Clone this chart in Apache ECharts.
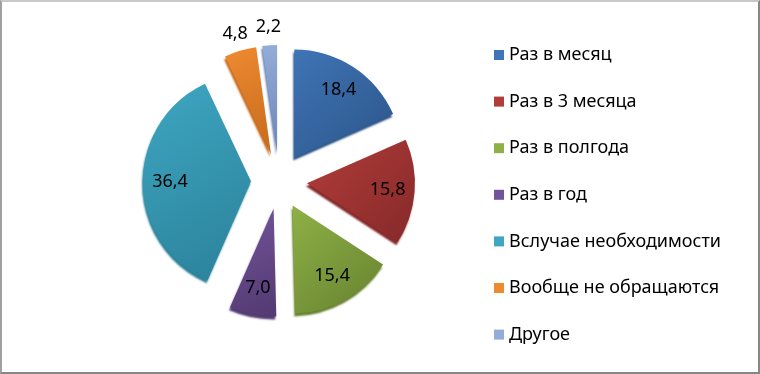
<!DOCTYPE html>
<html><head><meta charset="utf-8">
<script src="https://cdn.jsdelivr.net/npm/echarts@6/dist/echarts.min.js"></script>
<style>
html,body{margin:0;padding:0;background:#fff;}
#c{width:760px;height:374px;box-sizing:border-box;border:2px solid #878787;border-top-color:#c8c8c8;border-left-color:#a0a0a0;}
</style></head>
<body><div id="c"></div>
<script>
const categories = ['Раз в месяц','Раз в 3 месяца','Раз в полгода','Раз в год','Вслучае необходимости','Вообще не обращаются','Другое'];
const values = [18.4, 15.8, 15.4, 7.0, 36.4, 4.8, 2.2];
const outsideLabels = ['Вообще не обращаются','Другое'];
const colorsLight = ['#3f74b6','#b13d39','#8fb047','#73549a','#3ea6c2','#ee8a31','#93acd8'];
const colorsDark  = ['#2c5588','#86292a','#66822f','#533a72','#2b8199','#c66a1c','#6d86b5'];

const chart = echarts.init(document.getElementById('c'), null, {renderer:'canvas'});
const fmt = p => p.value.toFixed(1).replace('.', ',');
const pieData = categories.map((n,i)=>({
  name:n, value:values[i], selected:true,
  itemStyle:{
    color:new echarts.graphic.LinearGradient(0,0,1,1,[{offset:0,color:colorsLight[i]},{offset:1,color:colorsDark[i]}]),
    shadowColor:colorsDark[i], shadowOffsetY:3, shadowOffsetX:-1, shadowBlur:2
  }
}));
const labelData = (outside) => categories.map((n,i)=>({
  name:n, value:values[i], selected:true,
  label:{show: outsideLabels.includes(n) === outside}
}));
const common = {
  type:'pie', center:[277,179], startAngle:90, clockwise:true,
  selectedMode:'multiple', selectedOffset:28, avoidLabelOverlap:false,
  emphasis:{disabled:true}, labelLine:{show:false}
};
const labelStyle = {position:'inside', formatter:fmt, fontFamily:'Noto Sans', fontSize:18, color:'#000'};
chart.setOption({
  animation:false,
  backgroundColor:'#ffffff',
  legend:{
    orient:'vertical', left:487, top:39, itemGap:28.6, itemWidth:10, itemHeight:10, icon:'rect',
    data:categories.map((n,i)=>({name:n, itemStyle:{color:colorsLight[i]}})),
    textStyle:{fontFamily:'Noto Sans', fontSize:18, color:'#000'}, selectedMode:false
  },
  series:[
    Object.assign({}, common, {radius:[0,108], label:{show:false}, data:pieData}),
    Object.assign({}, common, {radius:[48,108], silent:true, itemStyle:{color:'rgba(0,0,0,0)'}, label:labelStyle, data:labelData(false)}),
    Object.assign({}, common, {radius:[106,140], silent:true, itemStyle:{color:'rgba(0,0,0,0)'}, label:labelStyle, data:labelData(true)})
  ]
});
</script></body></html>
